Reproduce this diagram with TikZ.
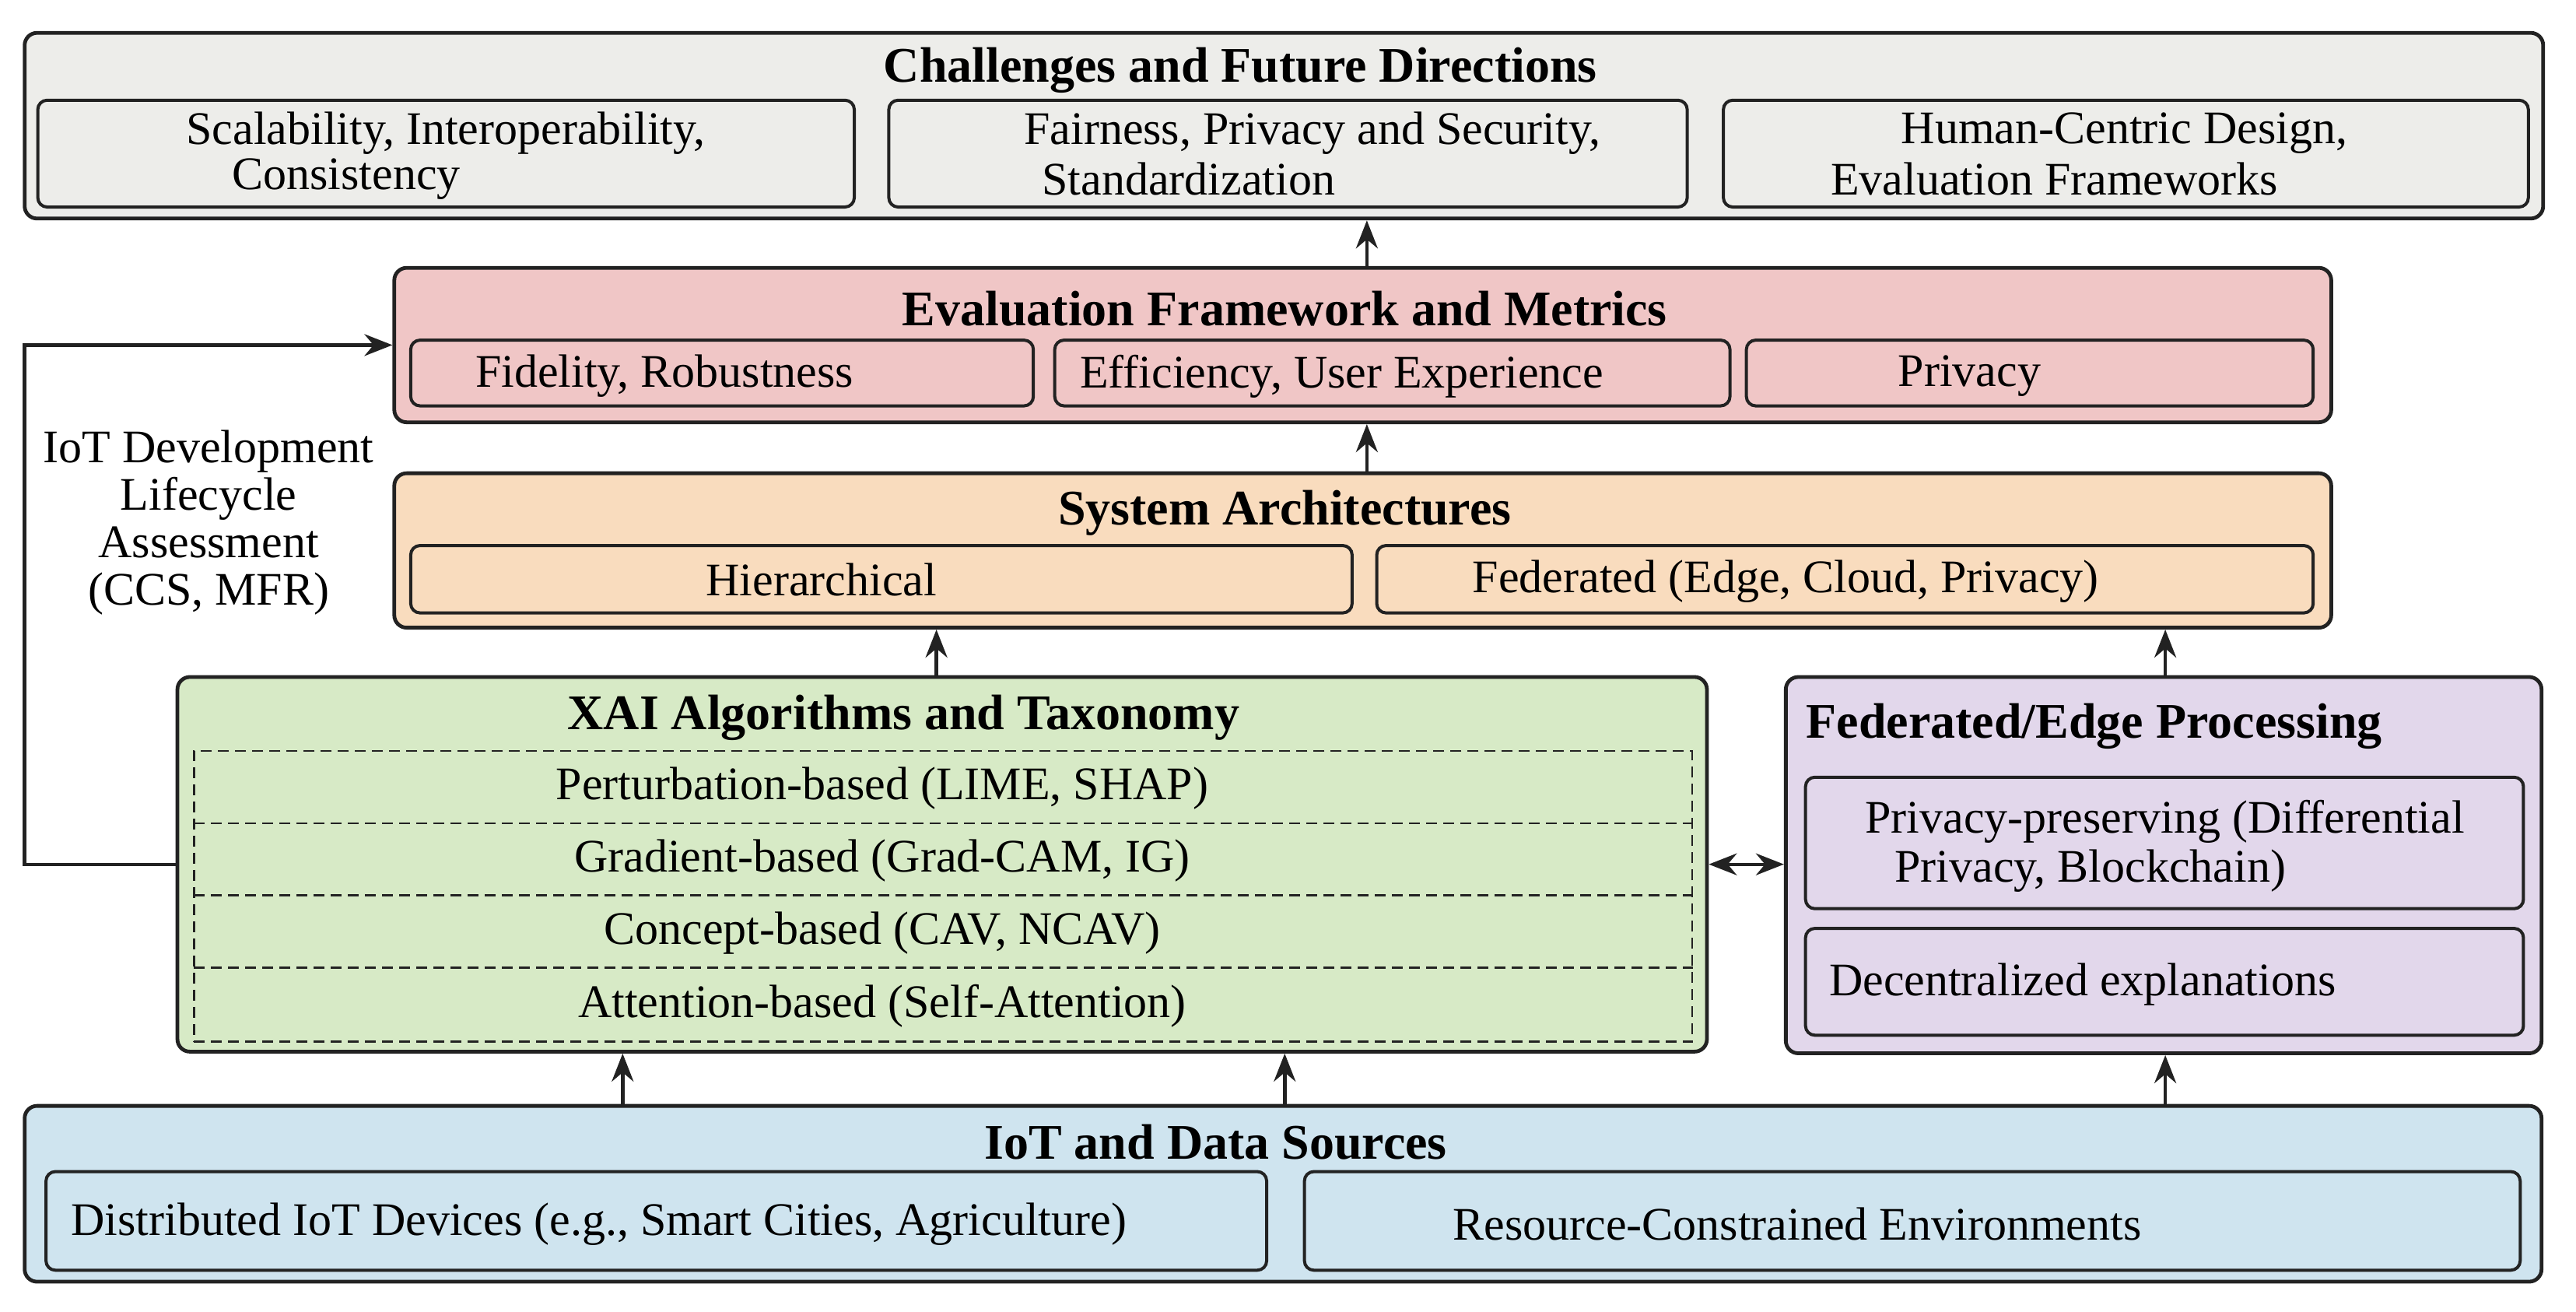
\documentclass[tikz,border=0pt]{standalone}
\usepackage{fontspec}
\setmainfont{Liberation Serif}
\usetikzlibrary{arrows.meta,fit}
\definecolor{cgray}{HTML}{EDEDEA}
\definecolor{cpink}{HTML}{F0C6C6}
\definecolor{cpeach}{HTML}{F9DCBE}
\definecolor{cgreen}{HTML}{D7EAC6}
\definecolor{clav}{HTML}{E2D7EB}
\definecolor{cblue}{HTML}{CFE4EF}
\definecolor{cline}{HTML}{222222}
\tikzset{
  outerbox/.style={draw=cline, line width=1.2pt, rounded corners=4pt, inner sep=0pt},
  innerbox/.style={draw=cline, line width=1pt, rounded corners=3pt, inner sep=0pt},
  dashbox/.style={draw=cline, line width=0.7pt, dash pattern=on 3.5pt off 2pt, inner sep=0pt},
  ttl/.style={font=\fontsize{16}{19}\selectfont\bfseries, inner sep=0pt},
  txt/.style={font=\fontsize{15}{18}\selectfont, inner sep=0pt},
  arr/.style={-{Stealth[length=9pt,width=7pt]}, line width=1.1pt, draw=cline},
  arrtwo/.style={{Stealth[length=9pt,width=7pt]}-{Stealth[length=9pt,width=7pt]}, line width=1.1pt, draw=cline},
}
\begin{document}
\begin{tikzpicture}[x=0.5279pt, y=-0.5279pt]
\useasboundingbox (0,0) rectangle (1568,798);
\fill[white] (0,0) rectangle (1568,798);

% ---------- Challenges ----------
\node[outerbox, fill=cgray, fit={(15,20) (1548,133)}] (chal) {};
\node[ttl] (chalT) at (755,43) {Challenges and Future Directions};
\node[innerbox, fill=cgray, fit={(23,61) (520,126)}] (c1) {};
\node[innerbox, fill=cgray, fit={(541,61) (1027,126)}] (c2) {};
\node[innerbox, fill=cgray, fit={(1049,61) (1539,126)}] (c3) {};
\node[txt, anchor=west] (c1a) at (113,81) {Scalability, Interoperability,};
\node[txt, anchor=west] (c1b) at (141,109) {Consistency};
\node[txt, anchor=west] (c2a) at (623,81) {Fairness, Privacy and Security,};
\node[txt, anchor=west] (c2b) at (634,109) {Standardization};
\node[txt, anchor=west] (c3a) at (1157,81) {Human-Centric Design,};
\node[txt, anchor=west] (c3b) at (1114,109) {Evaluation Frameworks};

% ---------- Evaluation ----------
\node[outerbox, fill=cpink, fit={(240,163) (1419,257)}] (eval) {};
\node[ttl] (evalT) at (782,188) {Evaluation Framework and Metrics};
\node[innerbox, fill=cpink, fit={(250,207) (629,247)}] (e1) {};
\node[innerbox, fill=cpink, fit={(642,207) (1053,247)}] (e2) {};
\node[innerbox, fill=cpink, fit={(1063,207) (1408,247)}] (e3) {};
\node[txt, anchor=west] (e1t) at (289,229) {Fidelity, Robustness};
\node[txt, anchor=west] (e2t) at (657,229) {Efficiency, User Experience};
\node[txt, anchor=west] (e3t) at (1155,229) {Privacy};

% ---------- System Architectures ----------
\node[outerbox, fill=cpeach, fit={(240,288) (1419,382)}] (sys) {};
\node[ttl] (sysT) at (782,312) {System Architectures};
\node[innerbox, fill=cpeach, fit={(250,332) (823,373)}] (s1) {};
\node[innerbox, fill=cpeach, fit={(838,332) (1408,373)}] (s2) {};
\node[txt] (s1t) at (500,353) {Hierarchical};
\node[txt, anchor=west] (s2t) at (896,354) {Federated (Edge, Cloud, Privacy)};

% ---------- XAI ----------
\node[outerbox, fill=cgreen, fit={(108,412) (1039,640)}] (xai) {};
\node[ttl] (xaiT) at (550,437) {XAI Algorithms and Taxonomy};
\node[dashbox, fit={(118,457) (1030,634)}] (xdash) {};
\coordinate (dl1) at (118,501);
\coordinate (dl2) at (118,545);
\coordinate (dl3) at (118,589);
\draw[dashbox] (dl1) -- (dl1 -| xdash.east);
\draw[dashbox] (dl2) -- (dl2 -| xdash.east);
\draw[dashbox] (dl3) -- (dl3 -| xdash.east);
\node[txt] (x1) at (537,480) {Perturbation-based (LIME, SHAP)};
\node[txt] (x2) at (537,524) {Gradient-based (Grad-CAM, IG)};
\node[txt] (x3) at (537,568) {Concept-based (CAV, NCAV)};
\node[txt] (x4) at (537,612) {Attention-based (Self-Attention)};

% ---------- Federated/Edge ----------
\node[outerbox, fill=clav, fit={(1087,412) (1547,641)}] (fed) {};
\node[ttl, anchor=west] (fedT) at (1099,442) {Federated/Edge Processing};
\node[innerbox, fill=clav, fit={(1099,473) (1536,553)}] (f1) {};
\node[innerbox, fill=clav, fit={(1099,565) (1536,630)}] (f2) {};
\node[txt, anchor=west] (f1a) at (1135,500) {Privacy-preserving (Differential};
\node[txt, anchor=west] (f1b) at (1153,530) {Privacy, Blockchain)};
\node[txt, anchor=west] (f2t) at (1113,599) {Decentralized explanations};

% ---------- IoT ----------
\node[outerbox, fill=cblue, fit={(15,673) (1547,780)}] (iot) {};
\node[ttl] (iotT) at (740,695) {IoT and Data Sources};
\node[innerbox, fill=cblue, fit={(28,713) (771,773)}] (i1) {};
\node[innerbox, fill=cblue, fit={(794,713) (1534,773)}] (i2) {};
\node[txt, anchor=west] (i1t) at (43,745) {Distributed IoT Devices (e.g., Smart Cities, Agriculture)};
\node[txt, anchor=west] (i2t) at (884,745) {Resource-Constrained Environments};

% ---------- side label ----------
\node[font=\fontsize{15}{15.3}\selectfont, align=center, inner sep=0pt] (life) at (127,318)
  {IoT Development\\Lifecycle\\Assessment\\(CCS, MFR)};

% ---------- connectors ----------
\coordinate (ax1) at (832,0);
\coordinate (ax2) at (570,0);
\coordinate (ax3) at (1318,0);
\coordinate (ax4) at (379,0);
\coordinate (ax5) at (782,0);
\coordinate (fb) at (15,210);
\draw[arr] (eval.north -| ax1) -- (chal.south -| ax1);
\draw[arr] (sys.north -| ax1) -- (eval.south -| ax1);
\draw[arr] (xai.north -| ax2) -- (sys.south -| ax2);
\draw[arr] (fed.north -| ax3) -- (sys.south -| ax3);
\draw[arr] (iot.north -| ax4) -- (xai.south -| ax4);
\draw[arr] (iot.north -| ax5) -- (xai.south -| ax5);
\draw[arr] (iot.north -| ax3) -- (fed.south -| ax3);
\draw[arrtwo] (xai.east) -- (xai.east -| fed.west);
\draw[arr] (xai.west) -| (fb) -- (eval.west);
\end{tikzpicture}
\end{document}
